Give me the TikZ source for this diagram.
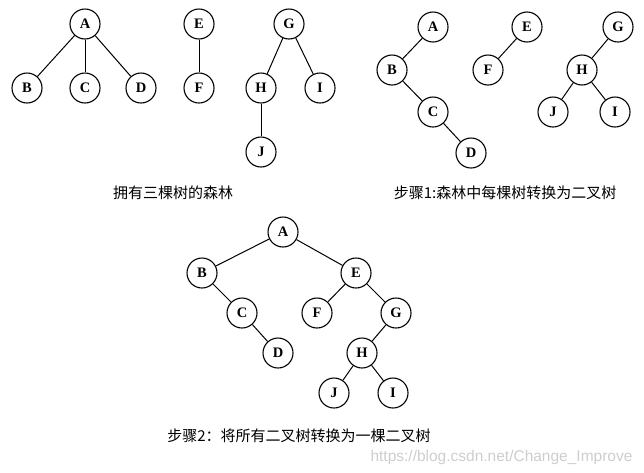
\documentclass[tikz,border=0pt]{standalone}
\usepackage{fontspec}
\usepackage{tikz}
\setmainfont{Liberation Serif}
\newfontfamily\cjk{Noto Sans CJK SC}
\newfontfamily\wmfont{Liberation Sans}
\usetikzlibrary{positioning}
\definecolor{wmgray}{RGB}{205,205,205}

\begin{document}
\begin{tikzpicture}[x=1pt, y=-1pt,
  nd/.style={draw, circle, minimum size=30pt, inner sep=0pt, line width=1.1pt, font=\fontsize{14.5}{15}\selectfont\bfseries},
  edge/.style={line width=1pt},
  captxt/.style={font=\cjk\fontsize{15}{18}\selectfont},
]
  \useasboundingbox (0,0) rectangle (644,472);

  % Forest of three trees
  \node[nd] (fa) at (85,24) {A};
  \node[nd] (fb) at (27,88) {B};
  \node[nd] (fc) at (85,88) {C};
  \node[nd] (fd) at (141,88) {D};
  \node[nd] (fe) at (199,24) {E};
  \node[nd] (ff) at (199,88) {F};
  \node[nd] (fg) at (289,24) {G};
  \node[nd] (fh) at (261,88) {H};
  \node[nd] (fi) at (320,88) {I};
  \node[nd] (fj) at (261,152) {J};
  \draw[edge] (fa) -- (fb);
  \draw[edge] (fa) -- (fc);
  \draw[edge] (fa) -- (fd);
  \draw[edge] (fe) -- (ff);
  \draw[edge] (fg) -- (fh);
  \draw[edge] (fg) -- (fi);
  \draw[edge] (fh) -- (fj);
  \node[captxt] (cap1) at (173,193) {拥有三棵树的森林};

  % Step 1: each tree as a binary tree
  \node[nd] (sa) at (433,27) {A};
  \node[nd] (sb) at (392,70) {B};
  \node[nd] (sc) at (433,112) {C};
  \node[nd] (sd) at (471,153) {D};
  \node[nd] (se) at (527,27) {E};
  \node[nd] (sf) at (488,70) {F};
  \node[nd] (sg) at (618,27) {G};
  \node[nd] (sh) at (582,70) {H};
  \node[nd] (sj) at (553,112) {J};
  \node[nd] (si) at (615,112) {I};
  \draw[edge] (sa) -- (sb);
  \draw[edge] (sb) -- (sc);
  \draw[edge] (sc) -- (sd);
  \draw[edge] (se) -- (sf);
  \draw[edge] (sg) -- (sh);
  \draw[edge] (sh) -- (sj);
  \draw[edge] (sh) -- (si);
  \node[captxt] (cap2) at (505,193) {步骤1:森林中每棵树转换为二叉树};

  % Step 2: one binary tree
  \node[nd] (ta) at (283,232) {A};
  \node[nd] (tb) at (202,273) {B};
  \node[nd] (te) at (356,273) {E};
  \node[nd] (tc) at (242,313) {C};
  \node[nd] (tf) at (317,313) {F};
  \node[nd] (tg) at (396,313) {G};
  \node[nd] (td) at (278,353) {D};
  \node[nd] (th) at (362,353) {H};
  \node[nd] (tj) at (334,393) {J};
  \node[nd] (ti) at (393,393) {I};
  \draw[edge] (ta) -- (tb);
  \draw[edge] (ta) -- (te);
  \draw[edge] (tb) -- (tc);
  \draw[edge] (tc) -- (td);
  \draw[edge] (te) -- (tf);
  \draw[edge] (te) -- (tg);
  \draw[edge] (tg) -- (th);
  \draw[edge] (th) -- (tj);
  \draw[edge] (th) -- (ti);
  \node[captxt] (cap3) at (299,436) {步骤2：将所有二叉树转换为一棵二叉树};

  \node[font=\wmfont\fontsize{15.5}{16}\selectfont, text=wmgray, anchor=east] (wm) at (636,457) {https://blog.csdn.net/Change\_Improve};
\end{tikzpicture}
\end{document}
